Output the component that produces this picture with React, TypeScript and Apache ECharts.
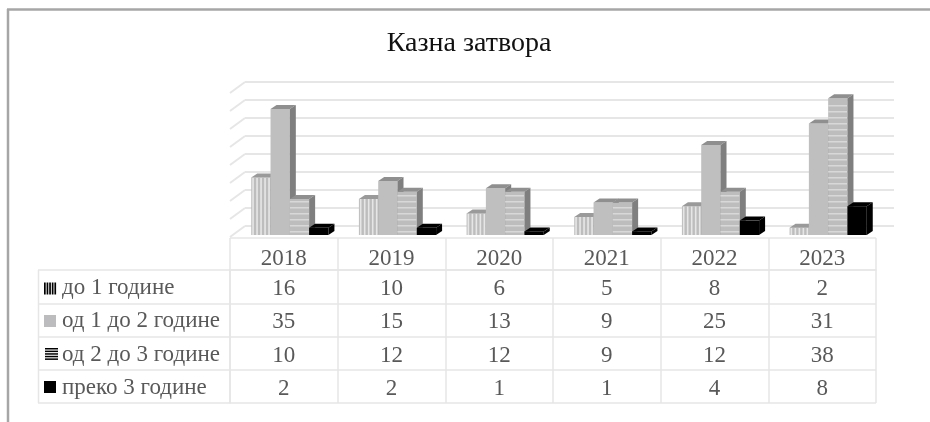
import React, { useEffect, useRef } from "react";
import * as echarts from "echarts";

const titleText = "Казна затвора";
const years = ["2018", "2019", "2020", "2021", "2022", "2023"];
const seriesNames = ["до 1 године", "од 1 до 2 године", "од 2 до 3 године", "преко 3 године"];
const upTo1 = [16, 10, 6, 5, 8, 2];
const from1to2 = [35, 15, 13, 9, 25, 31];
const from2to3 = [10, 12, 12, 9, 12, 38];
const over3 = [2, 2, 1, 1, 4, 8];
const allSeries = [upTo1, from1to2, from2to3, over3];

const TXT = "#595959";
const LINE = "#e6e6e6";
const FONT = "'Liberation Serif', serif";
const DX = 6;
const DY = 4;

const styles = [
  { base: "#bdbdbd", stripe: "v", top: "#9a9a9a", side: "#808080" },
  { base: "#bfbfbf", stripe: "", top: "#8f8f8f", side: "#7f7f7f" },
  { base: "#bdbdbd", stripe: "h", top: "#8f8f8f", side: "#7f7f7f" },
  { base: "#000000", stripe: "", top: "#000000", side: "#000000" },
];

function barRenderer(sIdx: number) {
  return (_p: any, api: any) => {
    const cat = api.value(0);
    const [cx, yTop] = api.coord([cat, api.value(1)]);
    const [, yBase] = api.coord([cat, 0]);
    const w = api.size([1, 0])[0] / 5.58;
    const x = cx + (sIdx - 2) * w;
    const h = yBase - yTop;
    const st = styles[sIdx];
    const children: any[] = [
      { type: "rect", shape: { x, y: yTop, width: w, height: h }, style: { fill: st.base } },
    ];
    if (st.stripe === "v") {
      for (let sx = x + 1; sx < x + w - 1; sx += 4) {
        children.push({ type: "rect", shape: { x: sx, y: yTop, width: 1.6, height: h }, style: { fill: "#e6e6e6" } });
      }
    }
    if (st.stripe === "h") {
      for (let sy = yBase - 4; sy > yTop + 1; sy -= 6) {
        children.push({ type: "rect", shape: { x, y: sy, width: w, height: 1.5 }, style: { fill: "#d8d8d8" } });
      }
    }
    children.push({
      type: "polygon",
      shape: { points: [[x, yTop], [x + DX, yTop - DY], [x + w + DX, yTop - DY], [x + w, yTop]] },
      style: { fill: st.top },
    });
    children.push({
      type: "polygon",
      shape: { points: [[x + w, yTop], [x + w + DX, yTop - DY], [x + w + DX, yBase - DY], [x + w, yBase]] },
      style: { fill: st.side },
    });
    return { type: "group", children };
  };
}

const wallTicks = [0, 5, 10, 15, 20, 25, 30, 35, 40];

export default function App() {
  const ref = useRef<HTMLDivElement>(null);
  useEffect(() => {
    const chart = echarts.init(ref.current!, undefined, { renderer: "svg" });
    const cells: any[] = [];
    allSeries.forEach((vals, r) => vals.forEach((v, c) => cells.push([c, r, v])));

    const keyX = 44;
    const rowTop = [270, 303, 336, 370];
    const keys: any[] = [];
    for (let i = 0; i < 5; i++) {
      keys.push({ type: "rect", shape: { x: keyX + i * 2.6, y: rowTop[0] + 12.5, width: 1.7, height: 12 }, style: { fill: "#000" } });
    }
    keys.push({ type: "rect", shape: { x: keyX, y: rowTop[1] + 12, width: 12, height: 12 }, style: { fill: "#bcbcbe" } });
    for (let i = 0; i < 5; i++) {
      keys.push({ type: "rect", shape: { x: keyX + 1, y: rowTop[2] + 12 + i * 2.6, width: 13, height: 1.5 }, style: { fill: "#000" } });
    }
    keys.push({ type: "rect", shape: { x: keyX, y: rowTop[3] + 11, width: 12, height: 12 }, style: { fill: "#000" } });

    chart.setOption({
      animation: false,
      backgroundColor: "#fff",
      title: {
        text: titleText,
        left: 464,
        top: 22,
        textAlign: "center",
        textStyle: { fontFamily: FONT, fontSize: 28, fontWeight: "normal", color: "#111" },
      },
      grid: [
        { left: 245, top: 82, width: 649, height: 144 },
        { left: 236, top: 91, width: 646, height: 144 },
        { left: 230, top: 270, width: 646, height: 133 },
      ],
      xAxis: [
        { gridIndex: 0, type: "category", data: years, show: false },
        { gridIndex: 1, type: "category", data: years, show: false },
        {
          gridIndex: 2,
          type: "category",
          data: years,
          position: "top",
          axisLine: { show: true, lineStyle: { color: LINE, width: 1.5 } },
          axisTick: { show: true, length: 32, lineStyle: { color: LINE, width: 1.5 } },
          axisLabel: { color: TXT, fontFamily: FONT, fontSize: 23, margin: 1 },
          splitLine: { show: true, lineStyle: { color: LINE, width: 1.5 } },
        },
      ],
      yAxis: [
        {
          gridIndex: 0,
          type: "value",
          min: 0,
          max: 40,
          interval: 5,
          axisLine: { show: false },
          axisTick: { show: false },
          axisLabel: { show: false },
          splitLine: { show: true, lineStyle: { color: LINE, width: 2 } },
        },
        { gridIndex: 1, type: "value", min: 0, max: 40, interval: 5, show: false, splitLine: { show: false } },
        {
          gridIndex: 2,
          type: "category",
          inverse: true,
          data: seriesNames,
          axisLine: { show: true, lineStyle: { color: LINE, width: 1.5 } },
          axisTick: { show: true, length: 192, lineStyle: { color: LINE, width: 1.5 } },
          axisLabel: { color: TXT, fontFamily: FONT, fontSize: 23, margin: 168, align: "left" },
          splitLine: { show: true, lineStyle: { color: LINE, width: 1.5 } },
        },
      ],
      series: [
        {
          type: "custom",
          xAxisIndex: 0,
          yAxisIndex: 0,
          silent: true,
          data: wallTicks.map((t) => [0, t]),
          encode: { x: 0, y: 1 },
          renderItem: (_p: any, api: any) => {
            const y = api.coord([0, api.value(1)])[1];
            return {
              type: "line",
              shape: { x1: 230, y1: y + 11, x2: 245, y2: y },
              style: { stroke: LINE, lineWidth: 2, fill: "none" },
            };
          },
        },
        ...allSeries.map((vals, s) => ({
          type: "custom",
          name: seriesNames[s],
          xAxisIndex: 1,
          yAxisIndex: 1,
          silent: true,
          z: 3 + s,
          encode: { x: 0, y: 1 },
          data: vals.map((v, c) => [c, v]),
          renderItem: barRenderer(s),
        })),
        {
          type: "scatter",
          xAxisIndex: 2,
          yAxisIndex: 2,
          silent: true,
          symbolSize: 0,
          itemStyle: { opacity: 1 },
          data: cells,
          label: {
            show: true,
            position: "inside",
            offset: [0, 1],
            color: TXT,
            opacity: 1,
            fontFamily: FONT,
            fontSize: 23,
            formatter: (p: any) => String(p.value[2]),
          },
        },
      ],
      graphic: [
        { type: "line", shape: { x1: 7, y1: 9.5, x2: 930, y2: 9.5 }, style: { stroke: "#a6a6a6", lineWidth: 2.5 } },
        { type: "line", shape: { x1: 8, y1: 9, x2: 8, y2: 422 }, style: { stroke: "#a6a6a6", lineWidth: 2.5 } },
        { type: "line", shape: { x1: 230, y1: 238, x2: 876, y2: 238 }, style: { stroke: LINE, lineWidth: 1.5 } },
        { type: "line", shape: { x1: 38.5, y1: 270, x2: 38.5, y2: 403 }, style: { stroke: LINE, lineWidth: 1.5 } },
        ...keys,
      ],
    });
    return () => chart.dispose();
  }, []);
  return (
    <div
      ref={ref}
      style={{ position: "fixed", left: 0, top: 0, width: 930, height: 422, background: "#fff", filter: "blur(0.45px)" }}
    />
  );
}
